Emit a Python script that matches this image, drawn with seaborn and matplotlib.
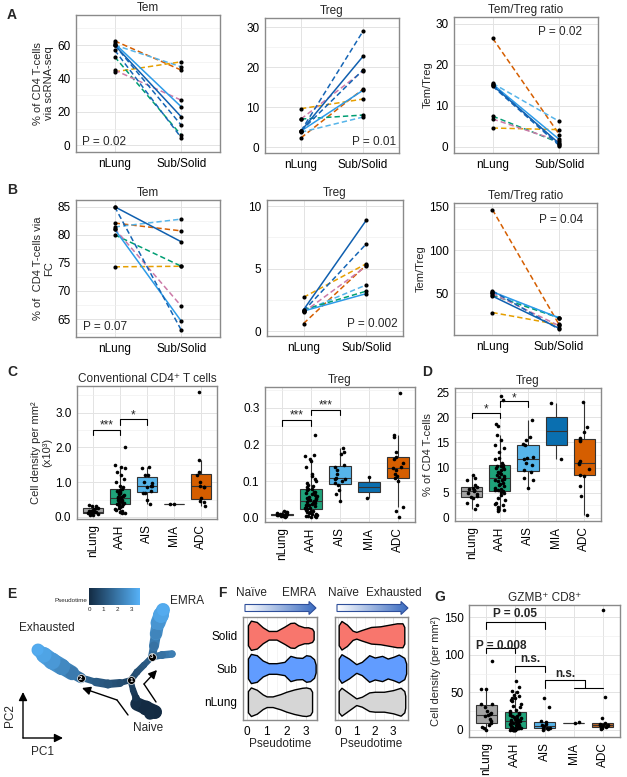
import numpy as np
import pandas as pd
import matplotlib
matplotlib.use("Agg")
import matplotlib.pyplot as plt
import seaborn as sns
from matplotlib.ticker import AutoMinorLocator, FixedLocator
from matplotlib.collections import LineCollection
from matplotlib.colors import LinearSegmentedColormap, Normalize
from matplotlib.cm import ScalarMappable
from matplotlib.patches import Polygon

W, H = 627, 777
np.random.seed(7)  # jitter of the strip points only

# ---------------- paired panels A / B (nLung -> Sub/Solid) ----------------
PATIENTS = ['P1', 'P2', 'P3', 'P4', 'P5', 'P6', 'P7', 'P8', 'P9']
PAT_COLORS = {'P1': '#D55E00', 'P2': '#56B4E9', 'P3': '#E69F00', 'P4': '#009E73',
              'P5': '#CC79A7', 'P6': '#0F5FAF', 'P7': '#2C9BE8', 'P8': '#1565B5',
              'P9': '#1565B5'}
PAT_DASHES = {p: (3.5, 2) for p in PATIENTS}
PAT_DASHES['P6'] = ''
PAT_DASHES['P7'] = ''

A_TEM_NL = [62.5, 60, 44, 53, 45, 60, 61, 60, 57]
A_TEM_SUB = [45, 47, 50, 6, 27, 17, 23, 12, 4.5]
A_TREG_NL = [2.3, 3.7, 9.6, 7, 7, 4, 4, 4, 4]
A_TREG_SUB = [14.5, 7.5, 12, 8, 19, 22.7, 14.2, 29, 19.3]
A_RATIO_NL = [26.5, 15.5, 4.6, 7.5, 6.8, 15.0, 15.3, 15.2, 14.8]
A_RATIO_SUB = [3.0, 6.2, 4.2, 1.0, 1.4, 0.8, 1.8, 0.5, 0.3]

B_TEM_NL = [82.1, 81.4, 74.3, 80, 81.1, 85, 81, 85]
B_TEM_SUB = [80.7, 82.8, 74.4, 74.4, 67.3, 78.75, 64.6, 63.0]
B_TREG_NL = [0.6, 1.6, 2.7, 1.7, 1.5, 1.7, 1.6, 1.6]
B_TREG_SUB = [5.3, 3.7, 5.4, 3.2, 5.2, 8.9, 3.0, 7.0]
B_RATIO_NL = [147, 51, 28, 48, 50, 47, 52, 53]
B_RATIO_SUB = [15, 22, 14, 22, 13, 10, 22, 9]

# ---------------- box panels C / D / G ----------------
GROUPS = ['nLung', 'AAH', 'AIS', 'MIA', 'ADC']
BOX_COLORS = {'nLung': '#A3A3A3', 'AAH': '#1FA37A', 'AIS': '#56B4E9',
              'MIA': '#0A6FB0', 'ADC': '#D55E00'}
G_COLORS = dict(BOX_COLORS, ADC='#C0692B')

C_CONV = {
    'nLung': [0.35, 0.32, 0.3, 0.27, 0.25, 0.22, 0.2, 0.18, 0.16, 0.15, 0.14, 0.13,
              0.12, 0.1, 0.09, 0.08, 0.06, 0.05],
    'AAH': [2.0, 1.5, 1.45, 1.4, 1.3, 1.2, 1.1, 1.0, 0.9, 0.85, 0.8, 0.78, 0.75, 0.72,
            0.7, 0.68, 0.65, 0.62, 0.6, 0.58, 0.56, 0.54, 0.52, 0.5, 0.49, 0.47, 0.45,
            0.43, 0.42, 0.4, 0.38, 0.37, 0.35, 0.33, 0.3, 0.28, 0.25, 0.22, 0.2, 0.18,
            0.15, 0.12, 0.1],
    'AIS': [1.45, 1.42, 1.22, 1.2, 1.0, 0.98, 0.9, 0.88, 0.85, 0.75, 0.7, 0.68, 0.5, 0.38],
    'MIA': [0.38, 0.38],
    'ADC': [3.6, 1.65, 1.3, 1.22, 1.0, 0.9, 0.87, 0.85, 0.55, 0.45, 0.42, 0.3],
}
C_TREG = {
    'nLung': [0.018, 0.016, 0.015, 0.013, 0.012, 0.011, 0.01, 0.01, 0.009, 0.009, 0.008,
              0.008, 0.007, 0.006, 0.005, 0.004, 0.003],
    'AAH': [0.225, 0.172, 0.168, 0.16, 0.155, 0.14, 0.12, 0.115, 0.105, 0.1, 0.095, 0.09,
            0.088, 0.085, 0.08, 0.078, 0.075, 0.072, 0.07, 0.068, 0.065, 0.062, 0.06,
            0.058, 0.055, 0.055, 0.052, 0.05, 0.048, 0.046, 0.045, 0.044, 0.042, 0.04,
            0.038, 0.036, 0.035, 0.034, 0.032, 0.03, 0.028, 0.026, 0.025, 0.024, 0.022,
            0.02, 0.018, 0.016, 0.015, 0.014, 0.012, 0.01, 0.008, 0.006, 0.005, 0.004,
            0.003, 0.002],
    'AIS': [0.19, 0.18, 0.175, 0.145, 0.14, 0.13, 0.12, 0.11, 0.107, 0.105, 0.1, 0.095,
            0.09, 0.075, 0.065, 0.045],
    'MIA': [0.113, 0.055],
    'ADC': [0.34, 0.225, 0.22, 0.18, 0.165, 0.16, 0.15, 0.14, 0.135, 0.13, 0.12, 0.115,
            0.11, 0.1, 0.03, 0.02, 0.003],
}
D_TREG = {
    'nLung': [8.5, 8.0, 7.5, 6.5, 6.2, 6.0, 5.8, 5.6, 5.5, 5.3, 5.0, 4.8, 4.4, 4.2, 4.0,
              3.0, 2.5, 1.7],
    'AAH': [24.2, 23.5, 18.7, 18.3, 16.4, 15.5, 14.5, 13.8, 13.0, 12.0, 11.7, 11.0, 10.6,
            10.4, 10.3, 10.1, 10.0, 9.8, 9.5, 9.2, 9.0, 8.8, 8.5, 8.3, 8.1, 7.9, 7.7, 7.6,
            7.5, 7.3, 7.0, 6.8, 6.5, 6.3, 6.0, 5.8, 5.6, 5.5, 5.4, 5.2, 5.0, 4.5, 4.0, 3.5,
            3.0, 2.8, 2.5, 2.2, 1.8, 1.5, 1.3],
    'AIS': [19.4, 16.0, 15.5, 14.6, 14.4, 12.2, 12.0, 11.8, 11.0, 10.5, 9.5, 9.2, 8.0,
            7.5, 6.0],
    'MIA': [22.9, 11.7],
    'ADC': [23.1, 18.0, 17.0, 15.8, 15.5, 15.2, 11.3, 11.0, 10.8, 9.8, 8.6, 8.4, 6.4,
            4.4, 0.5],
}
G_GZMB = {
    'nLung': [91, 55, 54, 35, 34, 30, 25, 23, 21, 20, 18, 15, 12, 9, 7, 4, 2, 0],
    'AAH': [65, 57, 52, 50, 46, 45, 43, 42, 40, 38, 35, 32, 30, 27, 25, 23, 22, 21, 20,
            19, 18, 17, 16, 15, 14, 13, 13, 12, 12, 11, 10, 9, 9, 8, 7, 6, 6, 5, 5, 4, 4,
            3, 3, 3, 2, 2, 2, 1, 1, 1, 1, 0, 0, 0, 0, 0, 0, 0],
    'AIS': [42, 31, 12, 10, 8, 6, 5, 3, 3, 2, 1, 0],
    'MIA': [10, 9],
    'ADC': [159, 44, 16, 9, 8, 7, 6, 6, 5, 5, 4, 3, 2, 1],
}

# significance brackets: (x1, x2, line y, leg y, label, label y)
C_CONV_SIG = [(0, 1, 2.50, 2.36, '***', 2.47), (1, 2, 2.81, 2.64, '*', 2.74)]
C_TREG_SIG = [(0, 1, 0.266, 0.250, '***', 0.262), (1, 2, 0.295, 0.280, '***', 0.291)]
D_SIG = [(0, 1, 20.9, 19.9, '*', 20.3), (1, 2, 23.2, 22.0, '*', 22.6)]
G_SIG = [(0, 2, 143, 134, 'P = 0.05', 146), (0, 1, 109, 102, 'P = 0.008', 104),
         (1, 2, 85, 77, 'n.s.', 86), (2, 3.4, 66, 56, 'n.s.', 67)]

# ---------------- panel E trajectory skeleton (PC1, PC2, pseudotime, width) ----------------
E_NAIVE = dict(pc1=[137, 146, 155, 150], pc2=[73, 69, 65, 63], t=[0.1, 0.0, 0.0, 0.05], w=[12, 15, 13, 10])
E_STEM = dict(pc1=[137, 136, 133, 131], pc2=[73, 79, 87, 95], t=[0.1, 0.25, 0.45, 0.65], w=[8, 7, 6, 6])
E_TO2 = dict(pc1=[131, 120, 108, 96, 86, 81], pc2=[97, 94, 93, 95, 98, 99],
             t=[0.7, 0.9, 1.1, 1.3, 1.5, 1.6], w=[5, 7, 9, 8, 5, 4])
E_EXH = dict(pc1=[81, 72, 62, 52, 44, 38], pc2=[99, 104, 110, 116, 122, 127],
             t=[1.7, 2.1, 2.5, 2.9, 3.2, 3.4], w=[8, 13, 16, 17, 15, 11])
E_TO3 = dict(pc1=[131, 137, 144, 152], pc2=[97, 105, 112, 120], t=[0.8, 1.0, 1.2, 1.4], w=[6, 7, 6, 6])
E_EMRA = dict(pc1=[152, 154, 156, 158, 161, 163], pc2=[120, 131, 143, 154, 162, 167],
              t=[1.5, 1.9, 2.4, 2.8, 3.2, 3.4], w=[7, 9, 11, 14, 16, 12])
E_SIDE = dict(pc1=[152, 162, 172], pc2=[120, 122, 123], t=[1.6, 1.9, 2.2], w=[6, 8, 7])
E_NODE_PC1 = [131, 81, 152]
E_NODE_PC2 = [97, 99, 120]
E_NODE_LAB = ['1', '2', '3']

# ---------------- panel F violin outlines (pseudotime, half width) ----------------
F_GROUPS = ['nLung', 'Sub', 'Solid']
F_COLORS = {'nLung': '#D6D6D6', 'Sub': '#619CFF', 'Solid': '#F8766D'}
F_LEFT = {
    'Solid': ([0.05, 0.2, 0.5, 0.8, 1.1, 1.5, 1.9, 2.2, 2.4, 2.6, 2.9, 3.1, 3.3, 3.38],
              [0.3, 0.44, 0.4, 0.24, 0.13, 0.13, 0.26, 0.37, 0.38, 0.3, 0.24, 0.24, 0.2, 0.12]),
    'Sub': ([0.05, 0.2, 0.5, 0.8, 1.1, 1.5, 1.9, 2.2, 2.5, 2.8, 3.0, 3.2, 3.4, 3.48],
            [0.3, 0.44, 0.4, 0.24, 0.16, 0.16, 0.2, 0.38, 0.33, 0.32, 0.4, 0.38, 0.28, 0.12]),
    'nLung': ([0.05, 0.2, 0.5, 0.8, 1.0, 1.3, 1.7, 2.0, 2.4, 2.8, 3.0, 3.2, 3.3],
              [0.32, 0.43, 0.36, 0.22, 0.16, 0.16, 0.23, 0.3, 0.37, 0.42, 0.43, 0.4, 0.3]),
}
F_RIGHT = {
    'Solid': ([0.05, 0.2, 0.5, 0.8, 1.0, 1.3, 1.8, 2.3, 2.8, 3.2, 3.5, 3.6],
              [0.3, 0.43, 0.32, 0.14, 0.1, 0.16, 0.25, 0.27, 0.32, 0.36, 0.36, 0.25]),
    'Sub': ([0.05, 0.2, 0.6, 1.0, 1.3, 1.7, 2.0, 2.4, 2.7, 3.0, 3.3, 3.6, 3.7],
            [0.3, 0.43, 0.3, 0.13, 0.2, 0.4, 0.33, 0.38, 0.3, 0.35, 0.42, 0.32, 0.15]),
    'nLung': ([0.05, 0.2, 0.6, 1.0, 1.3, 1.7, 2.0, 2.5, 3.0, 3.4, 3.6, 3.65],
              [0.32, 0.42, 0.26, 0.1, 0.15, 0.28, 0.3, 0.3, 0.35, 0.42, 0.32, 0.18]),
}

sns.set_style('white')
plt.rcParams['font.family'] = ['Liberation Sans', 'DejaVu Sans']
plt.rcParams['axes.titlesize'] = 8.5
plt.rcParams['axes.titlepad'] = 3
plt.rcParams['axes.labelsize'] = 8


def px_axes(fig, left, top, right, bottom):
    return fig.add_axes([left / W, 1 - bottom / H, (right - left) / W, (bottom - top) / H])


def ggframe(ax, ygrid=True, xgrid=True, xminor=False):
    ax.set_facecolor('white')
    for sp in ax.spines.values():
        sp.set_visible(True)
        sp.set_color('#8A8A8A')
        sp.set_linewidth(1.0)
    ax.grid(False)
    if ygrid:
        ax.yaxis.set_minor_locator(AutoMinorLocator(2))
        ax.grid(True, which='major', axis='y', color='#E3E3E3', lw=0.7)
        ax.grid(True, which='minor', axis='y', color='#EFEFEF', lw=0.45)
    if xgrid:
        ax.grid(True, which='major', axis='x', color='#E3E3E3', lw=0.7)
    if xminor:
        ax.xaxis.set_minor_locator(AutoMinorLocator(2))
        ax.grid(True, which='minor', axis='x', color='#EFEFEF', lw=0.45)
    ax.set_axisbelow(True)
    ax.tick_params(which='major', length=2.5, width=0.6, color='#666666',
                   labelsize=8.5, pad=1.5, labelcolor='black')
    ax.tick_params(which='minor', length=0)
    ax.set_xlabel('')
    ax.set_ylabel('')


def paired(ax, nl, sub, ylim, yticks, title, ylabel, ptxt, pxy, pha):
    pats = PATIENTS[:len(nl)]
    df = pd.DataFrame({'patient': pats + pats,
                       'group': ['nLung'] * len(nl) + ['Sub/Solid'] * len(sub),
                       'value': list(nl) + list(sub)})
    sns.lineplot(data=df, x='group', y='value', hue='patient', style='patient',
                 palette={p: PAT_COLORS[p] for p in pats},
                 dashes={p: PAT_DASHES[p] for p in pats},
                 sort=False, estimator=None, legend=False, lw=1.1, ax=ax)
    sns.scatterplot(data=df, x='group', y='value', color='black', s=9,
                    linewidth=0, zorder=4, ax=ax)
    ax.set_xlim(-0.58, 1.58)
    ax.set_ylim(*ylim)
    ax.yaxis.set_major_locator(FixedLocator(yticks))
    ggframe(ax)
    ax.set_title(title)
    ax.set_ylabel(ylabel, labelpad=2)
    ax.text(pxy[0], pxy[1], ptxt, transform=ax.transAxes, ha=pha, va='center', fontsize=8.5)


def boxpanel(ax, data, colors, ylim, yticks, yticklabels, title, ylabel, sig, bold=False):
    df = pd.DataFrame([(g, v) for g in GROUPS for v in data[g]], columns=['group', 'value'])
    sns.boxplot(data=df, x='group', y='value', order=GROUPS, hue='group', palette=colors,
                legend=False, showfliers=False, width=0.75, linewidth=0.8,
                linecolor='#333333', saturation=1, showcaps=False, ax=ax)
    sns.stripplot(data=df, x='group', y='value', order=GROUPS, color='black', size=2.6,
                  jitter=0.2, ax=ax, zorder=4)
    ax.set_xlim(-0.6, 4.6)
    ax.set_ylim(*ylim)
    ax.yaxis.set_major_locator(FixedLocator(yticks))
    if yticklabels is not None:
        ax.set_yticklabels(yticklabels)
    ggframe(ax)
    ax.tick_params(axis='x', labelrotation=90)
    ax.set_title(title)
    ax.set_ylabel(ylabel, labelpad=2)
    for x1, x2, y, yl, lab, ty in sig:
        ax.plot([x1, x1, x2, x2], [yl, y, y, yl], color='black', lw=0.8, zorder=5)
        ax.text((x1 + x2) / 2, ty, lab, ha='center', va='bottom', fontsize=8.5,
                fontweight='bold' if bold else 'normal', zorder=6)


def violin_panel(ax, shapes, xlim, show_labels):
    for i, grp in enumerate(F_GROUPS):
        t, hw = shapes[grp]
        t = np.asarray(t)
        hw = np.asarray(hw)
        ax.fill_between(t, i - hw, i + hw, facecolor=F_COLORS[grp], edgecolor='black',
                        lw=1.0, zorder=3)
    ax.set_xlim(*xlim)
    ax.set_ylim(-0.55, 2.55)
    ax.set_xticks([0, 1, 2, 3])
    ax.set_yticks([0, 1, 2])
    ggframe(ax, ygrid=False, xgrid=True, xminor=True)
    if show_labels:
        ax.set_yticklabels(F_GROUPS)
    else:
        ax.set_yticklabels([])
    ax.set_xlabel('Pseudotime', labelpad=0, fontsize=8.5)


fig = plt.figure(figsize=(W / 100, H / 100), dpi=100)

# ---- A ----
paired(px_axes(fig, 76, 15, 220, 152), A_TEM_NL, A_TEM_SUB, (-4, 78), [0, 20, 40, 60],
       'Tem', '% of CD4 T-cells\nvia scRNA-seq', 'P = 0.02', (0.04, 0.07), 'left')
paired(px_axes(fig, 265, 18, 399, 153), A_TREG_NL, A_TREG_SUB, (-1.5, 32.3), [0, 10, 20, 30],
       'Treg', '', 'P = 0.01', (0.98, 0.08), 'right')
paired(px_axes(fig, 454, 17, 598, 153), A_RATIO_NL, A_RATIO_SUB, (-1.5, 31.7), [0, 10, 20, 30],
       'Tem/Treg ratio', 'Tem/Treg', 'P = 0.02', (0.89, 0.89), 'right')
# ---- B ----
paired(px_axes(fig, 76, 200, 220, 337), B_TEM_NL, B_TEM_SUB, (61.8, 86.2), [65, 70, 75, 80, 85],
       'Tem', '% of  CD4 T-cells via\nFC', 'P = 0.07', (0.05, 0.075), 'left')
paired(px_axes(fig, 267, 200, 403, 336), B_TREG_NL, B_TREG_SUB, (-0.4, 10.5), [0, 5, 10],
       'Treg', '', 'P = 0.002', (0.96, 0.09), 'right')
paired(px_axes(fig, 454, 203, 597, 335), B_RATIO_NL, B_RATIO_SUB, (2, 154.6), [50, 100, 150],
       'Tem/Treg ratio', 'Tem/Treg', 'P = 0.04', (0.9, 0.87), 'right')

# ---- C / D ----
boxpanel(px_axes(fig, 77, 386, 217, 519), C_CONV, BOX_COLORS, (-0.06, 3.77), [0, 1, 2, 3],
         ['0.0', '1.0', '2.0', '3.0'], 'Conventional CD4\u207a T cells',
         'Cell density per mm\u00b2\n(x10\u00b3)', C_CONV_SIG)
boxpanel(px_axes(fig, 265, 387, 415, 522), C_TREG, BOX_COLORS, (-0.011, 0.357),
         [0, 0.1, 0.2, 0.3], ['0.0', '0.1', '0.2', '0.3'], 'Treg', '', C_TREG_SIG)
boxpanel(px_axes(fig, 455, 388, 601, 521), D_TREG, BOX_COLORS, (-0.6, 25.8),
         [0, 5, 10, 15, 20, 25], None, 'Treg', '% of CD4 T-cells', D_SIG)

# ---- G ----
boxpanel(px_axes(fig, 469, 605, 620, 737), G_GZMB, G_COLORS, (-9.3, 166), [0, 50, 100, 150],
         None, 'GZMB\u207a CD8\u207a', 'Cell density (per mm\u00b2)', G_SIG, bold=True)
axg = fig.axes[-1]
axg.plot([3.0, 4.0], [56.4, 56.4], color='black', lw=0.8, zorder=5)

# ---- E ----
axe = px_axes(fig, 0, 585, 210, 777)
axe.set_xlim(0, 210)
axe.set_ylim(0, 192)
axe.axis('off')
cmap = LinearSegmentedColormap.from_list('pt', ['#132B43', '#56B1F7'])
norm = Normalize(0, 3.56)
for br in [E_NAIVE, E_STEM, E_TO2, E_EXH, E_TO3, E_EMRA, E_SIDE]:
    pts = np.column_stack([br['pc1'], br['pc2']])
    segs = np.stack([pts[:-1], pts[1:]], axis=1)
    t = np.asarray(br['t'])
    w = np.asarray(br['w'], dtype=float)
    lc = LineCollection(segs, colors=cmap(norm((t[:-1] + t[1:]) / 2)),
                        linewidths=(w[:-1] + w[1:]) / 2 * 0.72, capstyle='round', zorder=2)
    axe.add_collection(lc)
    axe.scatter(br['pc1'], br['pc2'], c=cmap(norm(t)), s=(w * 0.72) ** 2,
                linewidths=0, zorder=2)
axe.scatter(E_NODE_PC1, E_NODE_PC2, s=32, color='black', edgecolors='white',
            linewidths=0.5, zorder=4)
for x, y, lab in zip(E_NODE_PC1, E_NODE_PC2, E_NODE_LAB):
    axe.text(x, y, lab, color='white', fontsize=4.5, fontweight='bold',
             ha='center', va='center', zorder=5)
cax = px_axes(fig, 89, 588, 140, 605)
cb = fig.colorbar(ScalarMappable(norm=norm, cmap=cmap), cax=cax, orientation='horizontal',
                  ticks=[0, 1, 2, 3])
cb.outline.set_visible(False)
cax.tick_params(labelsize=4.5, length=0, pad=1.5)

# ---- F ----
violin_panel(px_axes(fig, 243, 617, 317, 720), F_LEFT, (-0.2, 3.55), True)
violin_panel(px_axes(fig, 335, 617, 408, 720), F_RIGHT, (-0.15, 3.8), False)

# ---- overlay: panel letters, arrows, free text ----
ax0 = fig.add_axes([0, 0, 1, 1], zorder=10)
ax0.patch.set_alpha(0)
arrow_cmap = LinearSegmentedColormap.from_list('arr', ['#FFFFFF', '#3A6BC0'])
for x0, x1 in [(245, 316), (337, 408)]:
    yc, h, hh, hl = 608, 7, 13, 7
    poly = Polygon([(x0, yc - h / 2), (x1 - hl, yc - h / 2), (x1 - hl, yc - hh / 2), (x1, yc),
                    (x1 - hl, yc + hh / 2), (x1 - hl, yc + h / 2), (x0, yc + h / 2)],
                   closed=True, facecolor='none', edgecolor='#2E4E9A', lw=0.8, zorder=3)
    ax0.add_patch(poly)
    im = ax0.imshow(np.linspace(0, 1, 256)[None, :], cmap=arrow_cmap, aspect='auto',
                    extent=[x0, x1, yc + hh / 2, yc - hh / 2], zorder=2)
    im.set_clip_path(poly)
ax0.set_xlim(0, W)
ax0.set_ylim(H, 0)
ax0.axis('off')

for lab, x, y in [('A', 12, 15), ('B', 12, 190), ('C', 12, 372), ('D', 427, 372),
                  ('E', 12, 594), ('F', 222, 593), ('G', 440, 597)]:
    ax0.text(x, y, lab, fontsize=10, fontweight='bold', ha='center', va='center')

ax0.text(251, 593, 'Na\u00efve', fontsize=8.5, ha='center', va='center')
ax0.text(299, 593, 'EMRA', fontsize=8.5, ha='center', va='center')
ax0.text(343, 593, 'Na\u00efve', fontsize=8.5, ha='center', va='center')
ax0.text(394, 593, 'Exhausted', fontsize=8.5, ha='center', va='center')

ax0.text(47, 628, 'Exhausted', fontsize=8.5, ha='center', va='center')
ax0.text(187, 601, 'EMRA', fontsize=8.5, ha='center', va='center')
ax0.text(148, 728, 'Naive', fontsize=8.5, ha='center', va='center')
ax0.text(87, 601, 'Pseudotime', fontsize=4.5, ha='right', va='center')
ax0.text(10, 716, 'PC2', fontsize=8.5, rotation=90, ha='center', va='center')
ax0.text(42, 752, 'PC1', fontsize=8.5, ha='center', va='center')

arrow_kw = dict(arrowstyle='-|>,head_length=0.5,head_width=0.25', color='black', lw=1.0,
                shrinkA=0, shrinkB=0)
ax0.plot([128, 117], [715, 700], color='black', lw=1.0)
ax0.annotate('', xy=(82, 688), xytext=(117, 700), arrowprops=arrow_kw)
ax0.plot([156, 144], [702, 684], color='black', lw=1.0)
ax0.annotate('', xy=(157, 670), xytext=(144, 684), arrowprops=arrow_kw)
ax0.annotate('', xy=(23, 692), xytext=(23, 738), arrowprops=arrow_kw)
ax0.annotate('', xy=(63, 738), xytext=(23, 738), arrowprops=arrow_kw)

fig.savefig('out.png', dpi=100)
